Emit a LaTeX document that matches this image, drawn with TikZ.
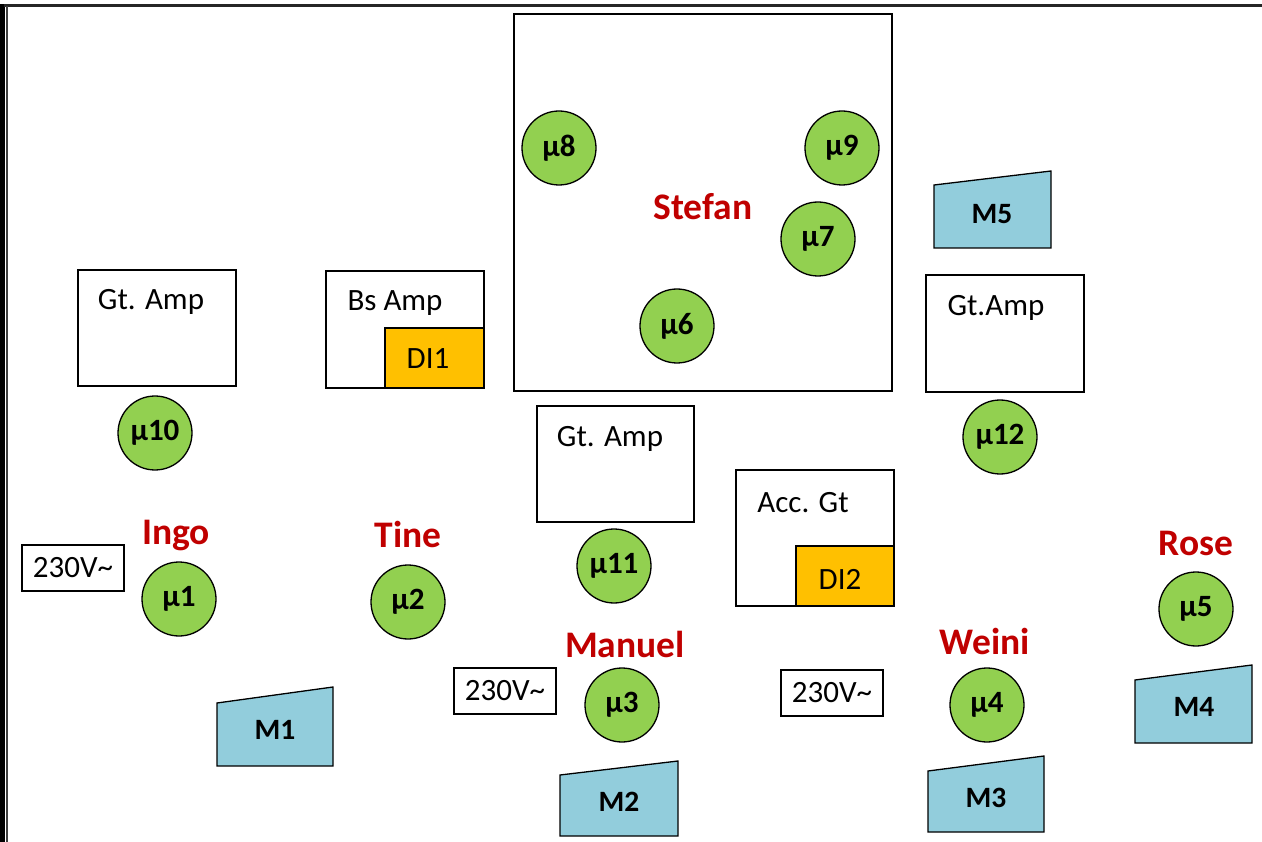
\documentclass[tikz,border=0pt]{standalone}
\usepackage{fontspec}
\setmainfont{Carlito}
\definecolor{mugreen}{HTML}{92D050}
\definecolor{monblue}{HTML}{92CDDC}
\definecolor{diorange}{HTML}{FFC000}
\definecolor{namered}{HTML}{C00000}
\tikzset{
  box/.style={draw=black, line width=1.3pt, fill=white},
  dibox/.style={draw=black, line width=1.3pt, fill=diorange},
  boxtext/.style={font=\fontsize{31}{34}\selectfont, inner sep=0pt},
  mic/.style={circle, draw=black, line width=1.3pt, fill=mugreen, minimum size=74pt, inner sep=0pt, font=\fontsize{31}{34}\selectfont\bfseries},
  mon/.style={draw=black, line width=1.3pt, fill=monblue},
  montext/.style={font=\fontsize{29.5}{34}\selectfont\bfseries, inner sep=0pt},
  person/.style={text=namered, font=\fontsize{37.5}{40}\selectfont\bfseries, inner sep=0pt},
  volt/.style={draw=black, line width=1.3pt, fill=white, minimum width=102pt, minimum height=46pt, inner sep=0pt, font=\fontsize{31}{34}\selectfont}
}
\begin{document}
\begin{tikzpicture}[x=1pt,y=-1pt]
\useasboundingbox (0,0) rectangle (1262,842);
% page frame
\fill[black] (0,4) rectangle (4.5,842);
\draw[line width=2.2pt, black!85] (4,5.5) -- (1262,5.5);
\draw[line width=1.6pt, black!75] (6.8,6) -- (6.8,842);

% Stefan riser
\draw[box] (514,14) rectangle (892,391);
\node[mic] (m8) at (559,148) {µ8};
\node[mic] (m9) at (842,148) {µ9};
\node[mic] (m7) at (818,239) {µ7};
\node[mic] (m6) at (677,326) {µ6};
\node[person] (stefan) at (703,207) {Stefan};

% M5
\draw[mon] (934,185) -- (1051,171) -- (1051,248) -- (934,248) -- cycle;
\node[montext] (mon5) at (992,214) {M5};

% right Gt.Amp
\draw[box] (926,275) rectangle (1084,392);
\node[boxtext] (gtr) at (996,308) {Gt.Amp};
\node[mic] (m12) at (1000,437) {µ12};

% left Gt. Amp
\draw[box] (78,270) rectangle (236,386);
\node[boxtext] (gtl) at (151,302) {Gt. Amp};
\node[mic] (m10) at (155,433) {µ10};

% Bs Amp + DI1
\draw[box] (326,271) rectangle (484,388);
\node[boxtext] (bs) at (395,303) {Bs Amp};
\draw[dibox] (385,328) rectangle (484,388);
\node[boxtext] (di1) at (428,359) {DI1};

% middle Gt. Amp
\draw[box] (537,406) rectangle (694,522);
\node[boxtext] (gtm) at (610,439) {Gt. Amp};
\node[mic] (m11) at (614,566) {µ11};

% Acc. Gt + DI2
\draw[box] (736,470) rectangle (894,606);
\node[boxtext] (acc) at (803,503) {Acc. Gt};
\draw[dibox] (796,546) rectangle (894,606);
\node[boxtext] (di2) at (840,579) {DI2};

% Ingo
\node[volt] (v1) at (73,568) {230V\char`~};
\node[person] (ingo) at (176,536) {Ingo};
\node[mic] (m1) at (179,599) {µ1};
\draw[mon] (217,703) -- (333,687) -- (333,766) -- (217,766) -- cycle;
\node[montext] (mon1) at (275,730) {M1};

% Tine
\node[person] (tine) at (408,534) {Tine};
\node[mic] (m2) at (408,602) {µ2};

% Manuel
\node[volt] (v2) at (505,691) {230V\char`~};
\node[person] (manuel) at (625,644) {Manuel};
\node[mic] (m3) at (622,705) {µ3};
\draw[mon] (560,775) -- (678,761) -- (678,836) -- (560,836) -- cycle;
\node[montext] (mon2) at (619,802) {M2};

% Weini
\node[volt] (v3) at (832,693) {230V\char`~};
\node[person] (weini) at (985,641) {Weini};
\node[mic] (m4) at (987,705) {µ4};
\draw[mon] (928,771) -- (1044,756) -- (1044,832) -- (928,832) -- cycle;
\node[montext] (mon3) at (986,798) {M3};

% Rose
\node[person] (rose) at (1196,543) {Rose};
\node[mic] (m5) at (1196,609) {µ5};
\draw[mon] (1135,680) -- (1252,665) -- (1252,743) -- (1135,743) -- cycle;
\node[montext] (mon4) at (1194,707) {M4};
\end{tikzpicture}
\end{document}
